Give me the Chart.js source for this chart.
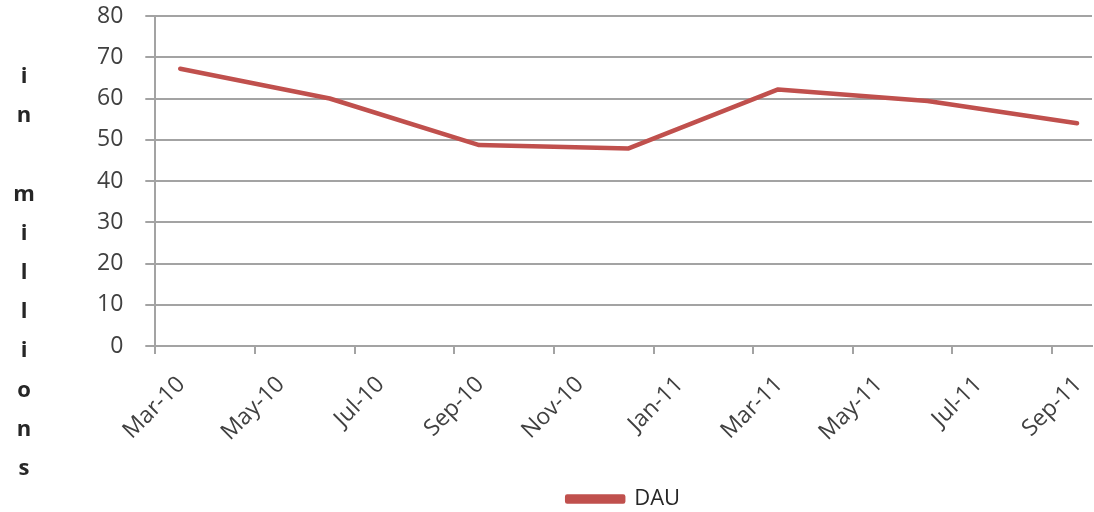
<!DOCTYPE html>
<html>
<head>
<meta charset="utf-8">
<script src="https://cdn.jsdelivr.net/npm/chart.js@4.4.1/dist/chart.umd.min.js"></script>
<style>
  html, body { margin: 0; padding: 0; background: #fff; }
  #wrap { width: 1094px; height: 512px; }
</style>
</head>
<body>
<div id="wrap"><canvas id="lineChart" width="1094" height="512"></canvas></div>
<script>
// quarterly DAU readings (in millions)
var categories = ['Mar-10', 'Jun-10', 'Sep-10', 'Dec-10', 'Mar-11', 'Jun-11', 'Sep-11'];
var dau = [67.2, 60.0, 48.7, 47.9, 62.2, 59.4, 54.0];
var tickLabels = ['Mar-10', 'May-10', 'Jul-10', 'Sep-10', 'Nov-10', 'Jan-11', 'Mar-11', 'May-11', 'Jul-11', 'Sep-11'];
var yTitle = 'in millions';

var monthNames = ['Jan', 'Feb', 'Mar', 'Apr', 'May', 'Jun', 'Jul', 'Aug', 'Sep', 'Oct', 'Nov', 'Dec'];
// months counted from Mar-10
function monthIndex(label) {
    var parts = label.split('-');
    return (parseInt(parts[1], 10) - 10) * 12 + monthNames.indexOf(parts[0]) - 2;
}

var points = categories.map(function (c, i) {
    return { x: monthIndex(c) + 0.5, y: dau[i] }; // plotted mid-month
});
var tickValues = tickLabels.map(monthIndex);

var textColor = '#404040';
var gridColor = '#a3a3a3';
var font = { family: 'Open Sans', size: 23 };

var verticalTitle = {
    id: 'verticalTitle',
    afterDraw: function (chart) {
        var ctx = chart.ctx;
        ctx.save();
        ctx.font = 'bold 22px "Open Sans"';
        ctx.fillStyle = '#262626';
        ctx.textAlign = 'center';
        ctx.textBaseline = 'alphabetic';
        var chars = yTitle.split('');
        for (var i = 0; i < chars.length; i++) {
            ctx.fillText(chars[i], 24, 83 + i * 39.2);
        }
        ctx.restore();
    }
};

var ctx = document.getElementById('lineChart');
var myLineChart = new Chart(ctx, {
    type: 'line',
    data: {
        datasets: [{
            label: 'DAU',
            data: points,
            borderColor: '#c0504d',
            backgroundColor: '#c0504d',
            borderWidth: 4.5,
            borderCapStyle: 'round',
            borderJoinStyle: 'round',
            pointRadius: 0,
            tension: 0
        }]
    },
    options: {
        responsive: false,
        animation: false,
        layout: {
            padding: { left: 75, right: 2, top: 16, bottom: -8 }
        },
        plugins: {
            tooltip: { enabled: false },
            legend: {
                position: 'bottom',
                fullSize: false,
                labels: {
                    boxWidth: 56,
                    boxHeight: 5,
                    padding: 4,
                    color: '#262626',
                    font: { family: 'Open Sans', size: 22 }
                }
            }
        },
        scales: {
            x: {
                type: 'linear',
                min: 0,
                max: 18.8,
                afterBuildTicks: function (scale) {
                    scale.ticks = tickValues.map(function (v) { return { value: v }; });
                },
                afterFit: function (scale) {
                    scale.height = 138;
                },
                grid: {
                    drawOnChartArea: false,
                    drawTicks: true,
                    tickLength: 8,
                    color: gridColor,
                    lineWidth: 2
                },
                border: { display: true, color: gridColor, width: 2 },
                ticks: {
                    color: textColor,
                    font: font,
                    minRotation: 45,
                    maxRotation: 45,
                    padding: 17,
                    labelOffset: 26,
                    autoSkip: false,
                    callback: function (value) {
                        var idx = tickValues.indexOf(value);
                        return idx >= 0 ? tickLabels[idx] : '';
                    }
                }
            },
            y: {
                min: 0,
                max: 80,
                afterFit: function (scale) {
                    scale.paddingTop = 0;
                    scale.paddingBottom = 0;
                },
                ticks: {
                    stepSize: 10,
                    color: textColor,
                    font: font,
                    padding: 22
                },
                grid: {
                    color: gridColor,
                    lineWidth: 2,
                    tickLength: 10
                },
                border: { display: true, color: gridColor, width: 2 }
            }
        }
    },
    plugins: [verticalTitle]
});
</script>
</body>
</html>
